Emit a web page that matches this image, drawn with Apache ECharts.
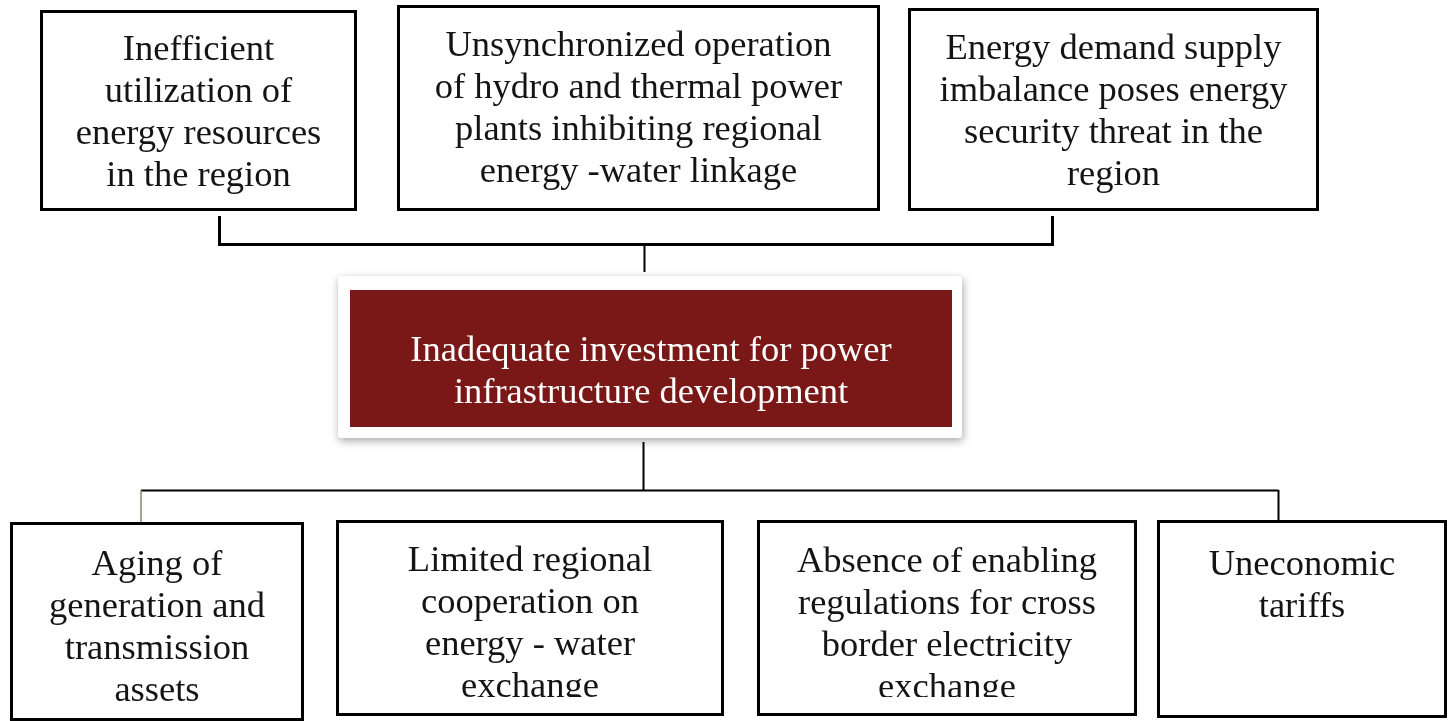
<!DOCTYPE html>
<html><head><meta charset="utf-8">
<script src="https://cdn.jsdelivr.net/npm/echarts@6/dist/echarts.min.js"></script>
<style>html,body{margin:0;padding:0;background:#fff}#c{width:1451px;height:721px}</style>
</head><body><div id="c"></div>
<script>
// ---- content ----
var topTexts = [
  ['Inefficient', 'utilization of', 'energy resources', 'in the region'],
  ['Unsynchronized operation', 'of hydro and thermal power', 'plants inhibiting regional', 'energy -water linkage'],
  ['Energy demand supply', 'imbalance poses energy', 'security threat in the', 'region']
];
var centerText = ['Inadequate investment for power', 'infrastructure development'];
var bottomTexts = [
  ['Aging of', 'generation and', 'transmission', 'assets'],
  ['Limited regional', 'cooperation on', 'energy - water', 'exchange'],
  ['Absence of enabling', 'regulations for cross', 'border electricity', 'exchange'],
  ['Uneconomic', 'tariffs']
];

// ---- layout (positions/styles) ----
var topBoxes = [
  {x: 40, y: 10, w: 317, h: 201, ty: 113},
  {x: 397, y: 5, w: 483, h: 206, ty: 109},
  {x: 908, y: 8, w: 411, h: 203, ty: 112}
];
var bottomBoxes = [
  {x: 10, y: 522, w: 294, h: 199, ty: 628, clip: null},
  {x: 336, y: 520, w: 388, h: 196, ty: 624, clip: 697},
  {x: 757, y: 520, w: 380, h: 196, ty: 625, clip: 697},
  {x: 1157, y: 520, w: 290, h: 198, ty: 586, clip: null}
];
var centerOuter = {x: 338, y: 276, w: 624, h: 162};
var centerInner = {x: 350, y: 290, w: 602, h: 137, ty: 372};
var FONT = '"Liberation Serif", "Times New Roman", serif';
var FS = 36.5, LH = 42;

var els = [];
function box(b, lines) {
  els.push({type: 'rect', shape: {x: b.x + 1.5, y: b.y + 1.5, width: b.w - 3, height: b.h - 3},
    style: {fill: '#fff', stroke: '#000', lineWidth: 3}, z: 1});
  els.push({type: 'text', z: 2, style: {text: lines.join('\n'), x: b.x + b.w / 2, y: b.ty,
    align: 'center', textAlign: 'center', verticalAlign: 'middle', textVerticalAlign: 'middle',
    fontSize: FS, fontFamily: FONT, lineHeight: LH, fill: '#141414'}});
  if (b.clip) {
    els.push({type: 'rect', z: 3, shape: {x: b.x + 3, y: b.clip, width: b.w - 6, height: b.y + b.h - 3 - b.clip},
      style: {fill: '#fff'}});
  }
}
function line(pts, w, c) {
  els.push({type: 'polyline', z: 0, shape: {points: pts}, style: {stroke: c || '#000', lineWidth: w, fill: null}});
}
topBoxes.forEach(function (b, i) { box(b, topTexts[i]); });
bottomBoxes.forEach(function (b, i) { box(b, bottomTexts[i]); });

// connectors
line([[219.5, 216], [219.5, 244.5], [1052.5, 244.5], [1052.5, 216]], 3);
line([[644.5, 244], [644.5, 272]], 2);
line([[643.5, 442], [643.5, 490.5]], 2);
line([[141, 490.5], [1278.5, 490.5]], 2);
line([[141, 490], [141, 522]], 1.5, '#8c8270');
line([[1278.5, 490], [1278.5, 521]], 2);

// center box
els.push({type: 'rect', z: 1, shape: {x: centerOuter.x, y: centerOuter.y, width: centerOuter.w, height: centerOuter.h, r: 3},
  style: {fill: '#fff', shadowBlur: 9, shadowOffsetX: 1, shadowOffsetY: 3, shadowColor: 'rgba(0,0,0,0.35)'}});
els.push({type: 'rect', z: 2, shape: {x: centerInner.x, y: centerInner.y, width: centerInner.w, height: centerInner.h},
  style: {fill: '#7a1717'}});
els.push({type: 'text', z: 3, style: {text: centerText.join('\n'), x: centerInner.x + centerInner.w / 2, y: centerInner.ty,
  align: 'center', textAlign: 'center', verticalAlign: 'middle', textVerticalAlign: 'middle',
  fontSize: FS, fontFamily: FONT, lineHeight: LH, fill: '#ffffff'}});

var chart = echarts.init(document.getElementById('c'));
chart.setOption({backgroundColor: '#fff', animation: false, graphic: {elements: els}});
</script></body></html>
